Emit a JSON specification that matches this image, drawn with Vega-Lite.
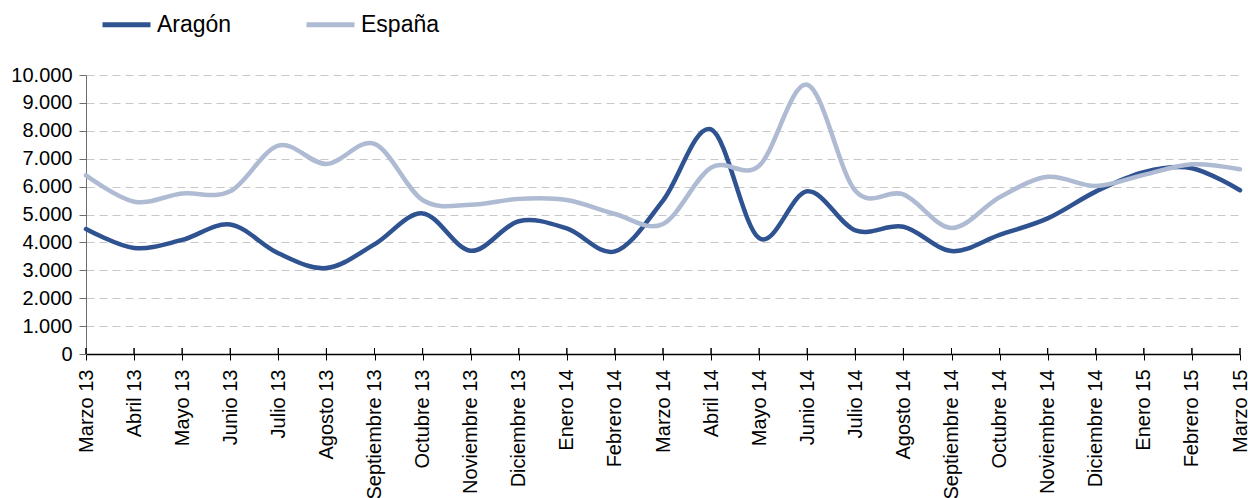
{
  "$schema": "https://vega.github.io/schema/vega-lite/v6.json",
  "autosize": "none",
  "width": 1154,
  "height": 279,
  "padding": {"left": 86, "top": 75, "right": 8, "bottom": 144},
  "background": "white",
  "config": {
    "font": "Liberation Sans",
    "view": {"stroke": null},
    "locale": {"number": {"decimal": ",", "thousands": ".", "grouping": [3], "currency": ["", " €"]}}
  },
  "data": {"values": [
    {"mes": "Marzo 13", "serie": "Aragón", "v": 4480},
    {"mes": "Abril 13", "serie": "Aragón", "v": 3800},
    {"mes": "Mayo 13", "serie": "Aragón", "v": 4090},
    {"mes": "Junio 13", "serie": "Aragón", "v": 4640},
    {"mes": "Julio 13", "serie": "Aragón", "v": 3610},
    {"mes": "Agosto 13", "serie": "Aragón", "v": 3080},
    {"mes": "Septiembre 13", "serie": "Aragón", "v": 3930},
    {"mes": "Octubre 13", "serie": "Aragón", "v": 5040},
    {"mes": "Noviembre 13", "serie": "Aragón", "v": 3700},
    {"mes": "Diciembre 13", "serie": "Aragón", "v": 4760},
    {"mes": "Enero 14", "serie": "Aragón", "v": 4500},
    {"mes": "Febrero 14", "serie": "Aragón", "v": 3680},
    {"mes": "Marzo 14", "serie": "Aragón", "v": 5500},
    {"mes": "Abril 14", "serie": "Aragón", "v": 8050},
    {"mes": "Mayo 14", "serie": "Aragón", "v": 4150},
    {"mes": "Junio 14", "serie": "Aragón", "v": 5830},
    {"mes": "Julio 14", "serie": "Aragón", "v": 4430},
    {"mes": "Agosto 14", "serie": "Aragón", "v": 4560},
    {"mes": "Septiembre 14", "serie": "Aragón", "v": 3690},
    {"mes": "Octubre 14", "serie": "Aragón", "v": 4270},
    {"mes": "Noviembre 14", "serie": "Aragón", "v": 4860},
    {"mes": "Diciembre 14", "serie": "Aragón", "v": 5820},
    {"mes": "Enero 15", "serie": "Aragón", "v": 6520},
    {"mes": "Febrero 15", "serie": "Aragón", "v": 6660},
    {"mes": "Marzo 15", "serie": "Aragón", "v": 5870},
    {"mes": "Marzo 13", "serie": "España", "v": 6400},
    {"mes": "Abril 13", "serie": "España", "v": 5460},
    {"mes": "Mayo 13", "serie": "España", "v": 5750},
    {"mes": "Junio 13", "serie": "España", "v": 5830},
    {"mes": "Julio 13", "serie": "España", "v": 7470},
    {"mes": "Agosto 13", "serie": "España", "v": 6810},
    {"mes": "Septiembre 13", "serie": "España", "v": 7530},
    {"mes": "Octubre 13", "serie": "España", "v": 5520},
    {"mes": "Noviembre 13", "serie": "España", "v": 5350},
    {"mes": "Diciembre 13", "serie": "España", "v": 5560},
    {"mes": "Enero 14", "serie": "España", "v": 5520},
    {"mes": "Febrero 14", "serie": "España", "v": 5020},
    {"mes": "Marzo 14", "serie": "España", "v": 4660},
    {"mes": "Abril 14", "serie": "España", "v": 6680},
    {"mes": "Mayo 14", "serie": "España", "v": 6750},
    {"mes": "Junio 14", "serie": "España", "v": 9650},
    {"mes": "Julio 14", "serie": "España", "v": 5850},
    {"mes": "Agosto 14", "serie": "España", "v": 5720},
    {"mes": "Septiembre 14", "serie": "España", "v": 4520},
    {"mes": "Octubre 14", "serie": "España", "v": 5620},
    {"mes": "Noviembre 14", "serie": "España", "v": 6350},
    {"mes": "Diciembre 14", "serie": "España", "v": 6020},
    {"mes": "Enero 15", "serie": "España", "v": 6420},
    {"mes": "Febrero 15", "serie": "España", "v": 6800},
    {"mes": "Marzo 15", "serie": "España", "v": 6620}
  ]},
  "resolve": {"axis": {"x": "independent", "y": "independent"}},
  "layer": [
    {
      "mark": {"type": "line", "interpolate": "cardinal", "strokeWidth": 4.5, "strokeCap": "round"},
      "encoding": {
        "x": {
          "field": "mes", "type": "ordinal", "sort": null,
          "scale": {"type": "point", "padding": 0},
          "axis": {
            "title": null, "labelAngle": 270, "labelAlign": "right", "labelBaseline": "middle",
            "labelFontSize": 20, "labelColor": "#000000", "labelPadding": 9,
            "domainColor": "#000000", "domainWidth": 1.5, "ticks": true, "tickColor": "#000000", "tickSize": 6,
            "grid": false, "labelOverlap": false
          }
        },
        "y": {
          "field": "v", "type": "quantitative",
          "scale": {"domain": [0, 10000], "nice": false},
          "axis": {
            "title": null, "values": [0,1000,2000,3000,4000,5000,6000,7000,8000,9000,10000],
            "labelOverlap": false, "labelBound": false, "labelFlush": false,
            "format": ",d", "labelFontSize": 20, "labelColor": "#000000", "labelPadding": 7,
            "domainColor": "#6e6e6e", "tickColor": "#6e6e6e", "tickSize": 7,
            "grid": true, "gridColor": "#c8c8c8", "gridDash": [8, 5], "gridWidth": 1.2
          }
        },
        "color": {
          "field": "serie", "type": "nominal",
          "scale": {"domain": ["Aragón", "España"], "range": ["#2f5290", "#aebbd3"]},
          "legend": {
            "title": null, "orient": "none", "direction": "horizontal",
            "legendX": 14, "legendY": -77, "padding": 0,
            "symbolType": "stroke", "symbolSize": 2304, "symbolStrokeWidth": 5,
            "labelFontSize": 23, "labelColor": "#000000", "labelOffset": 4,
            "columnPadding": 64
          }
        }
      }
    },
    {
      "mark": {"type": "rule", "color": "#000000", "strokeWidth": 1},
      "encoding": {
        "x": {"field": "mes", "type": "ordinal", "sort": null, "axis": null},
        "y": {"datum": 0, "type": "quantitative", "axis": null},
        "y2": {"datum": 215}
      }
    }
  ]
}
